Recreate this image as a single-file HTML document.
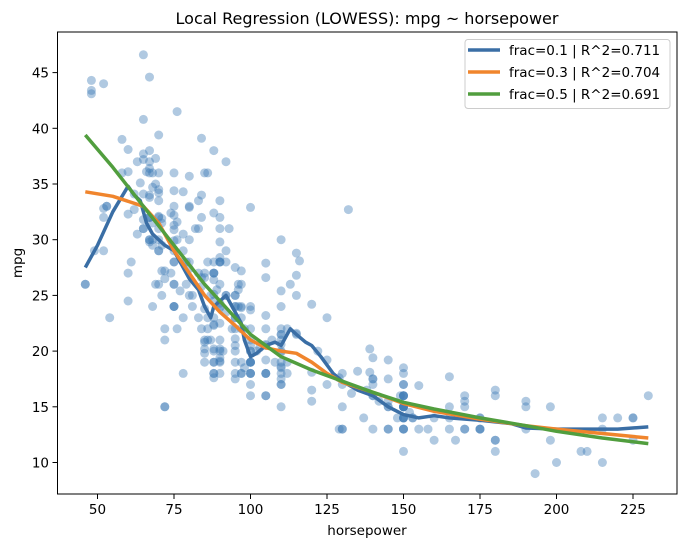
<!DOCTYPE html>
<html><head><meta charset="utf-8"><style>
html,body{margin:0;padding:0;background:#fff;}
svg text{font-family:"DejaVu Sans","Liberation Sans",sans-serif;fill:#000;}
</style></head><body>
<svg id="s" width="686" height="547" xmlns="http://www.w3.org/2000/svg">
<rect x="0" y="0" width="686" height="547" fill="#fff"/>
<g id="pts"></g>
<g id="lines"></g>
<rect x="57.5" y="32" width="619.5" height="462" fill="none" stroke="#000" stroke-width="1"/>
<g id="ticks"></g>
<text x="367" y="24" font-size="16" text-anchor="middle">Local Regression (LOWESS): mpg ~ horsepower</text>
<text x="367" y="535" font-size="13.5" text-anchor="middle">horsepower</text>
<text transform="translate(22,263) rotate(-90)" font-size="13.5" text-anchor="middle">mpg</text>
<rect x="465" y="39.5" width="205" height="69" rx="3" fill="#fff" fill-opacity="0.8" stroke="#ccc"/>
<line x1="468" y1="50" x2="500" y2="50" stroke="#3a6ea5" stroke-width="3.5"/>
<line x1="468" y1="72" x2="500" y2="72" stroke="#f0852d" stroke-width="3.5"/>
<line x1="468" y1="94" x2="500" y2="94" stroke="#519e3e" stroke-width="3.5"/>
<text x="509" y="55" font-size="13.5">frac=0.1 | R^2=0.711</text>
<text x="509" y="77" font-size="13.5">frac=0.3 | R^2=0.704</text>
<text x="509" y="99" font-size="13.5">frac=0.5 | R^2=0.691</text>
</svg>
<script>
function X(h){return 97.5+(h-50)*3.06;}
function Y(m){return 462.5-(m-10)*11.14;}
var d=[130,18,165,15,150,18,150,16,140,17,198,15,220,14,215,14,225,14,190,15,170,15,160,14,150,15,225,14,95,24,95,22,97,18,85,21,88,27,46,26,87,25,90,24,95,25,113,26,90,21,215,10,200,10,210,11,193,9,88,27,90,28,95,25,100,19,105,16,100,17,88,19,100,18,165,14,175,14,153,14,150,14,180,12,170,13,175,13,110,18,72,22,100,19,88,18,86,23,90,28,70,30,76,30,65,31,69,35,60,27,70,26,95,24,80,25,54,23,90,20,86,21,165,13,175,14,150,15,153,14,150,17,208,11,155,13,160,12,190,13,97,19,150,15,130,13,140,13,150,14,112,18,76,22,87,21,69,26,86,22,92,28,97,23,80,28,88,27,175,13,150,14,145,13,137,14,150,15,198,12,150,13,158,13,150,14,215,13,225,12,175,13,105,18,100,16,100,18,88,18,95,23,46,26,150,11,167,12,170,13,180,12,100,18,88,20,72,21,94,22,90,18,85,19,107,21,90,26,145,15,230,16,49,29,75,24,91,20,112,19,150,15,110,24,122,20,180,11,95,20,100,21,100,19,67,32,80,33,65,31,75,28,100,24,110,19,105,18,140,16,150,17,150,15,140,16,150,16,83,31,67,32,78,28,52,32,61,28,75,24,75,26,75,24,97,26,93,31,67,32,95,19,105,18,72,15,72,15,170,16,145,15,150,16,148,14,110,17,105,16,110,15,95,18,110,21,110,20,129,13,75,29,83,23,100,20,78,23,96,24,71,25,97,24,97,18,70,29,90,19,95,23,88,23,98,22,115,25,53,33,86,28,81,25,92,25,79,26,83,27,140,17.5,150,16,120,15.5,152,14.5,100,22,105,22,81,24,90,22.5,52,29,60,24.5,70,29,53,33,100,20,78,18,110,18.5,95,17.5,71,29.5,70,32,75,28,72,26.5,102,20,150,13,88,19,108,19,120,16.5,180,16.5,145,13,130,13,150,13,68,31.5,80,30,58,36,96,25.5,70,33.5,145,17.5,110,17,145,15.5,130,15,110,17.5,105,20.5,100,19,98,18.5,180,16,170,15.5,190,15.5,149,16,78,29,88,24.5,75,26,89,25.5,63,30.5,83,33.5,67,30,78,30.5,97,22,110,21.5,110,21.5,48,43.1,66,36.1,52,32.8,70,39.4,60,36.1,110,19.9,140,19.4,139,20.2,105,19.2,95,20.5,85,20.2,88,25.1,100,20.5,90,19.4,105,20.6,85,20.8,110,18.6,120,18.1,145,19.2,165,17.7,139,18.1,140,17.5,68,30,95,27.5,97,27.2,75,30.9,95,21.1,105,23.2,85,23.8,97,23.9,103,20.3,125,17,115,21.6,133,16.2,71,31.5,68,29.5,115,21.5,85,19.8,88,22.3,90,20.2,110,20.6,130,17,129,17.6,138,16.5,135,18.2,155,16.9,142,15.5,125,19.2,150,18.5,71,31.9,65,34.1,80,35.7,80,27.4,77,25.4,125,23,71,27.2,90,23.9,70,34.2,70,34.5,65,31.8,69,37.3,90,28.4,115,28.8,115,26.8,90,33.5,76,41.5,60,38.1,70,32.1,65,37.2,90,28,88,26.4,90,24.3,90,19.1,78,34.3,90,29.8,75,31.3,92,37,75,32.2,65,46.6,105,27.9,65,40.8,48,44.3,48,43.4,67,36.4,67,30,67,44.6,67,33.8,67,29.8,62,32.7,132,32.7,100,32.9,88,32.4,72,27.2,84,26.6,84,25.8,92,23.5,110,30,84,39.1,58,39,64,35.1,60,32.3,67,37,65,37.7,62,34.1,68,34.7,75,34.4,75,29.9,75,33,100,23.7,74,32.4,80,32.9,76,31.6,116,28.1,120,24.2,110,25.4,105,26.6,88,22.4,85,26.6,88,20.2,88,17.6,88,28,85,27,84,34,90,31,92,29,74,27,68,24,68,36,63,37,70,31,88,38,75,36,70,36,67,36,67,34,67,38,110,22,85,36,92,25,112,22,96,26,84,22,90,32,86,36,52,44,84,32,79,28,82,31];
var s='';for(var i=0;i<d.length;i+=2){s+='<circle cx="'+X(d[i]).toFixed(1)+'" cy="'+Y(d[i+1]).toFixed(1)+'" r="4.5" fill="#3a78b5" fill-opacity="0.4"/>';}
document.getElementById('pts').innerHTML=s;
function P(a,c){var p='';for(var i=0;i<a.length;i+=2)p+=X(a[i]).toFixed(1)+','+Y(a[i+1]).toFixed(1)+' ';return '<polyline points="'+p+'" fill="none" stroke="'+c+'" stroke-width="3.5" stroke-linejoin="round"/>';}
var b=[46,27.5,50,29.5,55,32.5,60,34.8,62,34,64,33.5,66,31.5,68,30.5,70,30,72,29.5,75,29,78,27.5,80,26.5,83,25.5,85,24,86,23.5,87,23,88,24,90,24.5,92,25,93,24.5,95,23.5,97,22.5,98,21,100,19.5,102,19.8,105,20.5,108,20.8,110,20.5,112,21.5,113,22,115,21.5,118,20.8,120,20.5,123,19.5,127,18,130,17.3,135,16.5,140,16,145,15,150,14.3,155,14,160,14.2,165,14,175,13.8,185,13.5,190,13.1,200,13,210,13,220,13,230,13.2];
var o=[46,34.3,55,33.9,65,33,70,31.5,75,29,80,27,85,25,90,23.5,95,22.3,100,21,105,20.3,110,20,115,19.8,120,19,125,18,130,17.2,140,16.3,150,15.3,160,14.6,175,13.9,190,13.3,200,13,215,12.6,230,12.2];
var g=[46,39.4,55,36.5,65,33,75,29.5,85,26,95,23,100,21.5,110,19.5,120,18.3,130,17.3,140,16.3,150,15.4,160,14.8,175,14,190,13.3,200,12.8,215,12.2,230,11.7];
document.getElementById('lines').innerHTML=P(b,'#3a6ea5')+P(o,'#f0852d')+P(g,'#519e3e');
var t='';for(var h=50;h<=225;h+=25){var x=X(h);t+='<line x1="'+x+'" y1="494" x2="'+x+'" y2="499" stroke="#000"/><text x="'+x+'" y="514" font-size="13.5" text-anchor="middle">'+h+'</text>';}
for(var m=10;m<=45;m+=5){var y=Y(m);t+='<line x1="52.5" y1="'+y+'" x2="57.5" y2="'+y+'" stroke="#000"/><text x="49" y="'+(y+5)+'" font-size="13.5" text-anchor="end">'+m+'</text>';}
document.getElementById('ticks').innerHTML=t;
</script>
</body></html>
